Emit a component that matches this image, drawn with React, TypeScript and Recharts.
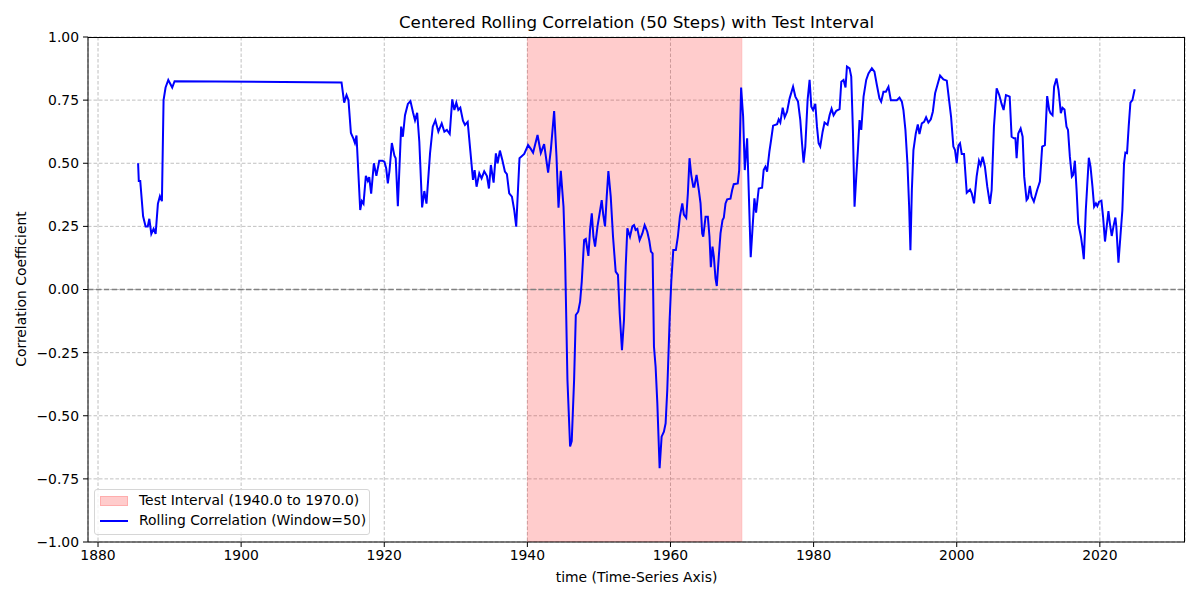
import React from 'react';
import {
  LineChart,
  Line,
  XAxis,
  YAxis,
  CartesianGrid,
  ReferenceArea,
  ReferenceLine,
} from 'recharts';

// values
const TIME = [
  1885.6, 1885.7, 1885.9, 1886.3, 1886.65, 1886.95, 1887.17, 1887.45, 1887.77, 1888.05,
  1888.37, 1888.65, 1888.93, 1889.16, 1889.44, 1889.82, 1890.37, 1890.7, 1914.03, 1914.4,
  1914.73, 1915.0, 1915.34, 1915.66, 1915.9, 1916.12, 1916.64, 1916.87, 1917.1, 1917.43,
  1917.7, 1917.9, 1918.17, 1918.55, 1918.9, 1919.3, 1919.75, 1920.03, 1920.27, 1920.5,
  1920.73, 1921.06, 1921.42, 1921.6, 1921.9, 1922.36, 1922.6, 1922.9, 1923.3, 1923.66,
  1924.03, 1924.3, 1924.6, 1924.9, 1925.29, 1925.6, 1925.9, 1926.4, 1926.78, 1927.14,
  1927.56, 1928.03, 1928.4, 1928.75, 1929.15, 1929.5, 1929.8, 1930.07, 1930.35, 1930.63,
  1931.0, 1931.28, 1931.66, 1932.02, 1932.4, 1932.63, 1932.9, 1933.28, 1933.6, 1933.97,
  1934.35, 1934.63, 1934.9, 1935.28, 1935.6, 1935.84, 1936.16, 1936.5, 1936.86, 1937.14,
  1937.46, 1937.84, 1938.16, 1938.44, 1938.9, 1939.56, 1940.1, 1940.5, 1940.8, 1941.42,
  1941.88, 1942.34, 1942.9, 1943.28, 1943.74, 1944.07, 1944.35, 1944.67, 1945.05, 1945.27,
  1945.6, 1945.97, 1946.2, 1946.53, 1946.77, 1947.1, 1947.37, 1947.6, 1947.93, 1948.16,
  1948.53, 1948.76, 1949.0, 1949.23, 1949.46, 1949.8, 1950.1, 1950.39, 1950.6, 1950.85,
  1951.09, 1951.32, 1951.65, 1951.97, 1952.34, 1952.66, 1952.9, 1953.22, 1953.5, 1953.74,
  1953.97, 1954.34, 1954.67, 1954.9, 1955.13, 1955.37, 1955.69, 1956.07, 1956.39, 1956.76,
  1957.04, 1957.27, 1957.5, 1957.69, 1957.92, 1958.16, 1958.48, 1958.76, 1959.08, 1959.32,
  1959.55, 1959.88, 1960.11, 1960.39, 1960.75, 1961.03, 1961.31, 1961.65, 1961.87, 1962.2,
  1962.43, 1962.66, 1962.9, 1963.18, 1963.33, 1963.64, 1963.96, 1964.2, 1964.43, 1964.58,
  1964.9, 1965.22, 1965.45, 1965.64, 1965.87, 1966.06, 1966.29, 1966.47, 1966.75, 1966.99,
  1967.27, 1967.45, 1967.69, 1967.92, 1968.38, 1968.62, 1968.84, 1969.4, 1969.6, 1969.87,
  1970.15, 1970.38, 1970.71, 1970.93, 1971.21, 1971.45, 1971.73, 1971.96, 1972.33, 1972.8,
  1973.02, 1973.26, 1973.5, 1973.82, 1974.06, 1974.34, 1974.9, 1975.12, 1975.35, 1975.68,
  1975.96, 1976.29, 1976.65, 1977.13, 1977.45, 1977.82, 1978.14, 1978.38, 1978.6, 1978.84,
  1979.16, 1979.44, 1979.68, 1979.92, 1980.24, 1980.47, 1980.7, 1980.93, 1981.26, 1981.53,
  1981.95, 1982.23, 1982.51, 1982.79, 1983.17, 1983.63, 1983.87, 1984.18, 1984.46, 1984.66,
  1985.02, 1985.26, 1985.49, 1985.72, 1985.96, 1986.19, 1986.42, 1986.66, 1986.98, 1987.35,
  1987.67, 1988.14, 1988.5, 1988.84, 1989.2, 1989.44, 1989.76, 1990.1, 1990.46, 1990.79,
  1991.63, 1992.0, 1992.33, 1992.55, 1992.83, 1993.11, 1993.35, 1993.53, 1993.73, 1993.95,
  1994.28, 1994.56, 1994.79, 1995.12, 1995.44, 1995.72, 1996.04, 1996.38, 1996.66, 1996.98,
  1997.3, 1997.67, 1998.14, 1998.61, 1998.93, 1999.21, 1999.53, 1999.76, 2000.0, 2000.23,
  2000.46, 2000.7, 2001.02, 2001.4, 2001.86, 2002.1, 2002.42, 2002.78, 2003.11, 2003.34,
  2003.62, 2003.94, 2004.27, 2004.64, 2004.88, 2005.2, 2005.58, 2005.94, 2006.27, 2006.55,
  2006.88, 2007.25, 2007.4, 2007.67, 2008.0, 2008.2, 2008.37, 2008.6, 2008.93, 2009.21,
  2009.43, 2009.76, 2009.95, 2010.22, 2010.46, 2010.78, 2011.24, 2011.62, 2011.94, 2012.32,
  2012.64, 2012.92, 2013.1, 2013.39, 2013.61, 2013.94, 2014.23, 2014.55, 2014.78, 2015.06,
  2015.34, 2015.55, 2015.81, 2016.09, 2016.28, 2016.51, 2016.75, 2016.98, 2017.36, 2017.59,
  2017.76, 2018.04, 2018.46, 2018.7, 2018.97, 2019.2, 2019.45, 2019.65, 2019.9, 2020.22,
  2020.45, 2020.72, 2020.96, 2021.2, 2021.4, 2021.66, 2021.94, 2022.17, 2022.3, 2022.6,
  2022.87, 2023.15, 2023.38, 2023.57, 2023.8, 2024.03, 2024.27, 2024.55, 2024.87,
];

const CORR = [
  0.5, 0.43, 0.43, 0.29, 0.25, 0.25, 0.28, 0.22, 0.24, 0.22,
  0.34, 0.37, 0.35, 0.75, 0.8, 0.83, 0.8, 0.825, 0.82, 0.74,
  0.77, 0.75, 0.62, 0.6, 0.58, 0.61, 0.315, 0.35, 0.34, 0.45,
  0.43, 0.445, 0.38, 0.5, 0.45, 0.51, 0.51, 0.505, 0.48, 0.42,
  0.47, 0.58, 0.53, 0.52, 0.33, 0.645, 0.605, 0.69, 0.735, 0.746,
  0.7, 0.67, 0.7, 0.585, 0.325, 0.39, 0.34, 0.54, 0.645, 0.67,
  0.625, 0.658, 0.625, 0.632, 0.616, 0.753, 0.711, 0.74, 0.711, 0.72,
  0.669, 0.652, 0.664, 0.552, 0.434, 0.473, 0.407, 0.46, 0.44, 0.468,
  0.449, 0.4, 0.493, 0.423, 0.539, 0.5, 0.55, 0.513, 0.467, 0.457,
  0.381, 0.368, 0.315, 0.249, 0.52, 0.537, 0.572, 0.556, 0.542, 0.612,
  0.541, 0.576, 0.463, 0.553, 0.707, 0.526, 0.324, 0.47, 0.328, 0.13,
  -0.358, -0.622, -0.6, -0.358, -0.101, -0.088, -0.048, 0.031, 0.196, 0.2,
  0.133, 0.236, 0.302, 0.209, 0.17, 0.25, 0.302, 0.354, 0.297, 0.25,
  0.368, 0.469, 0.368, 0.209, 0.071, 0.058, -0.094, -0.24, -0.121, 0.09,
  0.242, 0.209, 0.25, 0.255, 0.236, 0.24, 0.196, 0.222, 0.255, 0.229,
  0.193, 0.15, 0.143, -0.226, -0.306, -0.45, -0.708, -0.583, -0.563, -0.53,
  -0.398, -0.121, 0.031, 0.156, 0.156, 0.209, 0.288, 0.341, 0.297, 0.284,
  0.381, 0.52, 0.454, 0.407, 0.407, 0.454, 0.394, 0.341, 0.222, 0.209,
  0.288, 0.288, 0.209, 0.088, 0.17, 0.13, 0.044, 0.014, 0.13, 0.222,
  0.275, 0.284, 0.341, 0.357, 0.36, 0.394, 0.417, 0.42, 0.473, 0.8,
  0.685, 0.473, 0.599, 0.394, 0.128, 0.236, 0.361, 0.304, 0.4, 0.403,
  0.473, 0.486, 0.467, 0.546, 0.592, 0.649, 0.655, 0.674, 0.661, 0.72,
  0.682, 0.704, 0.757, 0.803, 0.764, 0.744, 0.671, 0.579, 0.502, 0.566,
  0.75, 0.83, 0.724, 0.711, 0.735, 0.645, 0.579, 0.566, 0.625, 0.661,
  0.652, 0.69, 0.716, 0.69, 0.708, 0.714, 0.823, 0.83, 0.8, 0.883,
  0.876, 0.843, 0.632, 0.328, 0.447, 0.552, 0.671, 0.632, 0.764, 0.83,
  0.856, 0.876, 0.863, 0.81, 0.757, 0.744, 0.783, 0.783, 0.803, 0.75,
  0.75, 0.76, 0.744, 0.711, 0.632, 0.5, 0.328, 0.156, 0.394, 0.552,
  0.618, 0.654, 0.616, 0.658, 0.664, 0.682, 0.661, 0.674, 0.704, 0.777,
  0.81, 0.847, 0.832, 0.827, 0.75, 0.684, 0.566, 0.552, 0.5, 0.57,
  0.579, 0.537, 0.537, 0.383, 0.396, 0.381, 0.341, 0.447, 0.51, 0.493,
  0.526, 0.486, 0.407, 0.339, 0.394, 0.645, 0.797, 0.77, 0.735, 0.711,
  0.77, 0.766, 0.764, 0.605, 0.599, 0.599, 0.52, 0.618, 0.638, 0.605,
  0.447, 0.354, 0.361, 0.41, 0.368, 0.348, 0.394, 0.427, 0.566, 0.572,
  0.766, 0.711, 0.698, 0.69, 0.803, 0.836, 0.79, 0.698, 0.72, 0.713,
  0.645, 0.632, 0.526, 0.447, 0.454, 0.51, 0.394, 0.262, 0.209, 0.163,
  0.12, 0.315, 0.522, 0.486, 0.407, 0.328, 0.341, 0.33, 0.348, 0.352,
  0.288, 0.19, 0.25, 0.31, 0.262, 0.212, 0.255, 0.285, 0.25, 0.106,
  0.209, 0.315, 0.5, 0.542, 0.54, 0.645, 0.74, 0.75, 0.793,
];

const X_TICKS = [1880, 1900, 1920, 1940, 1960, 1980, 2000, 2020];
const Y_TICKS = [-1, -0.75, -0.5, -0.25, 0, 0.25, 0.5, 0.75, 1];
const TEST_START = 1940;
const TEST_END = 1970;

const data = TIME.map((t, i) => ({ time: t, corr: CORR[i] }));

const FONT = '"DejaVu Sans", sans-serif';
const tickStyle = { fill: '#000', fontSize: 13.9, fontFamily: FONT };

const fmtY = (v: number) => v.toFixed(2).replace('-', '\u2212');

export default function App() {
  return (
    <div style={{ position: 'absolute', left: 0, top: 0, width: 1200, height: 600, background: '#fff', fontFamily: FONT }}>
      <LineChart
        width={1200}
        height={600}
        data={data}
        margin={{ top: 37, right: 15, bottom: 0, left: 0 }}
      >
        <CartesianGrid stroke="#b0b0b0" strokeDasharray="3.5 2" strokeWidth={0.8} />
        <XAxis
          dataKey="time"
          type="number"
          domain={[1878.6, 2031.9]}
          ticks={X_TICKS}
          allowDataOverflow
          height={58}
          tick={tickStyle}
          tickSize={5}
          tickMargin={3}
          stroke="#000"
        />
        <YAxis
          type="number"
          domain={[-1, 1]}
          ticks={Y_TICKS}
          width={88}
          tick={tickStyle}
          tickFormatter={fmtY}
          tickSize={5}
          tickMargin={4}
          stroke="#000"
        />
        <ReferenceArea
          x1={TEST_START}
          x2={TEST_END}
          y1={-1}
          y2={1}
          fill="#ff0000"
          fillOpacity={0.2}
          stroke="#ff0000"
          strokeOpacity={0.1}
          ifOverflow="hidden"
        />
        <ReferenceLine y={0} stroke="#808080" strokeWidth={1.5} strokeDasharray="5.5 2.4" />
        <Line
          type="linear"
          dataKey="corr"
          stroke="#0000ff"
          strokeWidth={2}
          dot={false}
          activeDot={false}
          isAnimationActive={false}
        />
      </LineChart>

      {/* top and right spines */}
      <div
        style={{
          position: 'absolute',
          left: 88,
          top: 37,
          width: 1097,
          height: 505,
          boxSizing: 'border-box',
          borderTop: '1px solid #000',
          borderRight: '1px solid #000',
          pointerEvents: 'none',
        }}
      />

      <div style={{ position: 'absolute', left: 0, width: 1273, top: 12, textAlign: 'center', fontSize: 16.7, color: '#000' }}>
        Centered Rolling Correlation (50 Steps) with Test Interval
      </div>
      <div style={{ position: 'absolute', left: 0, width: 1273, top: 569, textAlign: 'center', fontSize: 13.9, color: '#000' }}>
        time (Time-Series Axis)
      </div>
      <div
        style={{
          position: 'absolute',
          left: 21,
          top: 289,
          transform: 'translate(-50%, -50%) rotate(-90deg)',
          whiteSpace: 'nowrap',
          fontSize: 13.9,
          color: '#000',
        }}
      >
        Correlation Coefficient
      </div>

      <div
        style={{
          position: 'absolute',
          left: 94,
          top: 489,
          width: 276,
          height: 46,
          boxSizing: 'border-box',
          border: '1px solid #d6d6d6',
          borderRadius: 3,
          background: 'rgba(255,255,255,0.8)',
          fontSize: 13.9,
          color: '#000',
        }}
      >
        <div style={{ position: 'absolute', left: 5, top: 6, width: 28, height: 10, background: 'rgba(255,0,0,0.2)', border: '1px solid rgba(255,0,0,0.15)', boxSizing: 'border-box' }} />
        <div style={{ position: 'absolute', left: 44, top: 2, whiteSpace: 'nowrap' }}>Test Interval (1940.0 to 1970.0)</div>
        <div style={{ position: 'absolute', left: 5, top: 30, width: 28, height: 2, background: '#0000ff' }} />
        <div style={{ position: 'absolute', left: 44, top: 22, whiteSpace: 'nowrap' }}>Rolling Correlation (Window=50)</div>
      </div>
    </div>
  );
}
